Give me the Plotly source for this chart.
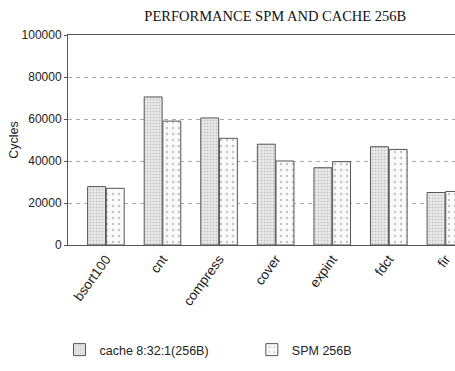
import plotly.graph_objects as go

benchmarks = ["bsort100", "cnt", "compress", "cover", "expint", "fdct", "fir"]
cache_cycles = [27800, 70500, 60500, 48000, 36800, 46800, 25000]
spm_cycles = [27000, 59000, 50800, 40000, 39700, 45500, 25500]
y_ticks = [0, 20000, 40000, 60000, 80000, 100000]

fig = go.Figure()
fig.add_trace(go.Bar(
    x=benchmarks, y=cache_cycles, name="cache 8:32:1(256B)", legend="legend",
    marker=dict(color="#e6e6e6", line=dict(color="#555555", width=1),
                pattern=dict(shape=".", size=3, solidity=0.4,
                             fgcolor="#9a9a9a", bgcolor="#eeeeee")),
))
fig.add_trace(go.Bar(
    x=benchmarks, y=spm_cycles, name="SPM 256B", legend="legend2",
    marker=dict(color="#ffffff", line=dict(color="#555555", width=1),
                pattern=dict(shape=".", size=6, solidity=0.12,
                             fgcolor="#8a8a8a", bgcolor="#fafafa")),
))

legend_style = dict(xanchor="left", y=-0.5, yanchor="middle",
                    font=dict(size=12.5), itemwidth=30, bgcolor="rgba(0,0,0,0)")

fig.update_layout(
    width=455, height=371,
    margin=dict(l=68, r=0, t=35, b=126),
    paper_bgcolor="white", plot_bgcolor="white",
    barmode="group", bargap=0.34, bargroupgap=0.04,
    font=dict(family="Liberation Sans", size=12, color="#222222"),
    title=dict(text="PERFORMANCE SPM AND CACHE 256B",
               font=dict(family="Liberation Serif", size=14.5, color="#111111"),
               x=0.605, xanchor="center", y=0.972, yanchor="top"),
    showlegend=True,
    legend=dict(x=-0.022, **legend_style),
    legend2=dict(x=0.475, **legend_style),
    annotations=[dict(text="Cycles", textangle=-90, showarrow=False,
                      xref="paper", yref="paper", x=-0.14, y=0.5,
                      xanchor="center", yanchor="middle",
                      font=dict(size=12.5, color="#222222"))],
)
fig.update_xaxes(
    range=[-0.67, 6.17], tickangle=-54, showgrid=False,
    showline=True, mirror=True, linecolor="#555555", linewidth=1,
    ticks="", tickfont=dict(size=13.5),
)
fig.update_yaxes(
    range=[0, 100000], tickvals=y_ticks, ticktext=[str(v) for v in y_ticks],
    showline=True, linecolor="#555555", linewidth=1,
    ticks="outside", ticklen=3, tickcolor="#555555",
    showgrid=True, gridcolor="#aaaaaa", griddash="4px,4px", gridwidth=1,
    zeroline=False,
    tickfont=dict(size=12),
)

fig.write_html("out.html")
